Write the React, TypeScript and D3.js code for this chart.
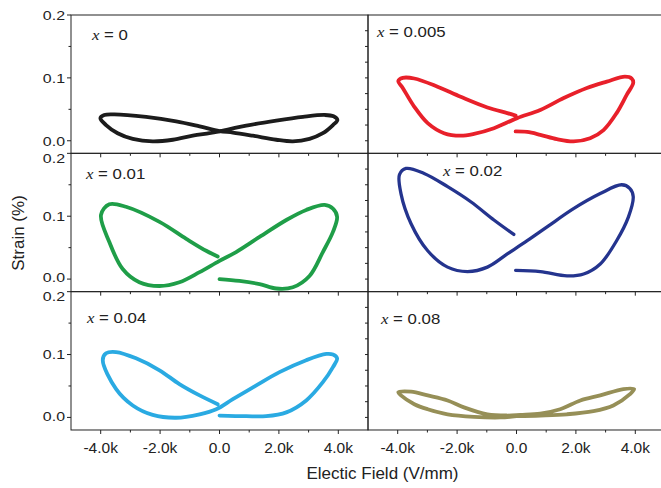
import React from "react";
import * as d3 from "d3";

// Each loop: [electric field (V/mm), strain (%)]
const loopX0: [number, number][] = [
  [0, 0.0148], [900, 0.024], [1910, 0.032], [2810, 0.038], [3540, 0.041], [3840, 0.039],
  [3970, 0.033], [3820, 0.025], [3480, 0.012], [3030, 0.003], [2470, -0.001], [1910, 0.0016],
  [1120, 0.008], [450, 0.013], [0, 0.0155], [-670, 0.023], [-1460, 0.031], [-2470, 0.038],
  [-3540, 0.042], [-3880, 0.041], [-4010, 0.036], [-3820, 0.025], [-3430, 0.012], [-2920, 0.003],
  [-2250, -0.001], [-1570, 0.0016], [-900, 0.008], [-340, 0.012], [0, 0.0148],
];

const loopX005: [number, number][] = [
  [-30, 0.0148], [360, 0.014], [800, 0.0095], [1360, 0.0026], [1920, -0.001], [2480, 0.004],
  [2930, 0.017], [3370, 0.044], [3710, 0.073], [3930, 0.092], [3880, 0.099], [3650, 0.102],
  [3040, 0.094], [2370, 0.084], [1590, 0.068], [800, 0.049], [20, 0.036], [-760, 0.02],
  [-1430, 0.011], [-1880, 0.008], [-2440, 0.012], [-2990, 0.028], [-3440, 0.054], [-3830, 0.084],
  [-3980, 0.095], [-3830, 0.1], [-3440, 0.099], [-2660, 0.086], [-1880, 0.07], [-980, 0.053],
  [-310, 0.044], [-30, 0.04],
];

const loopX01: [number, number][] = [
  [0, 0.0], [670, -0.003], [1350, -0.008], [1910, -0.015], [2470, -0.013], [3030, 0.005],
  [3480, 0.043], [3820, 0.075], [3960, 0.099], [3820, 0.112], [3540, 0.118], [2920, 0.11],
  [2250, 0.094], [1350, 0.067], [560, 0.043], [0, 0.029], [-670, 0.011], [-1350, -0.005],
  [-2020, -0.011], [-2700, -0.005], [-3260, 0.016], [-3710, 0.059], [-3990, 0.102], [-3710, 0.119],
  [-3150, 0.115], [-2020, 0.091], [-1120, 0.064], [-450, 0.045], [-60, 0.036],
];

const loopX02: [number, number][] = [
  [-30, 0.014], [800, 0.012], [1700, 0.005], [2260, 0.008], [2820, 0.024], [3370, 0.061],
  [3770, 0.099], [3930, 0.131], [3820, 0.144], [3540, 0.15], [2820, 0.136], [1920, 0.112],
  [1030, 0.083], [360, 0.061], [-310, 0.04], [-980, 0.019], [-1650, 0.012], [-2320, 0.019],
  [-2990, 0.045], [-3550, 0.088], [-3890, 0.136], [-3940, 0.166], [-3720, 0.176], [-3110, 0.168],
  [-2320, 0.147], [-1540, 0.123], [-760, 0.094], [-90, 0.071],
];

const loopX04: [number, number][] = [
  [0, 0.003], [900, 0.002], [1570, 0.002], [2250, 0.008], [2920, 0.027], [3480, 0.056],
  [3820, 0.08], [3960, 0.094], [3820, 0.1], [3600, 0.101], [2920, 0.091], [2020, 0.072],
  [1240, 0.051], [450, 0.029], [-110, 0.013], [-670, 0.005], [-1460, -0.0005], [-2250, 0.004],
  [-2920, 0.019], [-3480, 0.045], [-3930, 0.091], [-3820, 0.102], [-3480, 0.104], [-2810, 0.094],
  [-2020, 0.075], [-1350, 0.053], [-670, 0.035], [-60, 0.021],
];

const loopX08: [number, number][] = [
  [0, 0.002], [800, 0.003], [1700, 0.005], [2590, 0.01], [3260, 0.019], [3820, 0.037],
  [3960, 0.045], [3600, 0.045], [2820, 0.035], [2150, 0.027], [1470, 0.013], [800, 0.006],
  [130, 0.004], [-310, 0.003], [-980, 0.005], [-1770, 0.016], [-2320, 0.027], [-2990, 0.035],
  [-3550, 0.041], [-3980, 0.04], [-3890, 0.035], [-3440, 0.021], [-2990, 0.013], [-2320, 0.005],
  [-1430, 0.001], [-540, 0.0], [0, 0.002],
];

const panelLabels = ["0", "0.005", "0.01", "0.02", "0.04", "0.08"];
const panelLoops = [loopX0, loopX005, loopX01, loopX02, loopX04, loopX08];
const panelColors = ["#1c1c1c", "#e8202a", "#1f9e48", "#24348e", "#2aaae2", "#968f57"];
const labelPos: [number, number][] = [
  [92, 40], [377, 36.5], [86, 179], [443, 176], [87, 322.5], [381, 324],
];

const xDomain = [-5000, 5000];
const yDomain = [-0.02, 0.2];
const xMajorTicks = [-4000, -2000, 0, 2000, 4000];
const xMinorTicks = [-3000, -1000, 1000, 3000];
const yMajorTicks = [0, 0.1, 0.2];
const yMinorTicks = [0.05, 0.15];
const yRightTicks = [0, 0.025, 0.05, 0.075, 0.1, 0.125, 0.15, 0.175];

const FONT = "'Liberation Sans', Arial, sans-serif";
const INK = "#222";

export default function App() {
  const W = 661, H = 488;
  const left = 71, top = 15, panelW = 297, panelH = 138.33;

  const fmtX = (d: number) => (d === 0 ? "0.0" : `${d < 0 ? "-" : ""}${(Math.abs(d) / 1000).toFixed(1)}k`);

  const panels = panelLoops.map((loop, i) => {
    const col = i % 2, row = Math.floor(i / 2);
    const x0 = left + col * panelW, y0 = top + row * panelH;
    const xs = d3.scaleLinear().domain(xDomain).range([x0, x0 + panelW]);
    const ys = d3.scaleLinear().domain(yDomain).range([y0 + panelH, y0]);
    const line = d3.line<[number, number]>()
      .x((d) => xs(d[0]))
      .y((d) => ys(d[1]))
      .curve(d3.curveCatmullRom.alpha(0.5));
    const yb = y0 + panelH;
    const labelBaseline = (t: number) => {
      if (t === 0.2 && row > 0) return ys(t) + 9.7;
      if (t === 0 && row > 0) return ys(t) + 3.3;
      return ys(t) + 4.8;
    };
    return (
      <g key={i}>
        <rect x={x0} y={y0} width={panelW} height={panelH} fill="none" stroke={INK} strokeWidth={1} />
        {xMajorTicks.map((t) => (
          <line key={"xM" + t} x1={xs(t)} x2={xs(t)} y1={yb} y2={yb + 4} stroke={INK} strokeWidth={1} />
        ))}
        {xMinorTicks.map((t) => (
          <line key={"xm" + t} x1={xs(t)} x2={xs(t)} y1={yb} y2={yb + 2.5} stroke={INK} strokeWidth={1} />
        ))}
        {col === 0 ? (
          <>
            {yMajorTicks.map((t) => (
              <line key={"yM" + t} x1={x0 - 4} x2={x0} y1={ys(t)} y2={ys(t)} stroke={INK} strokeWidth={1} />
            ))}
            {yMinorTicks.map((t) => (
              <line key={"ym" + t} x1={x0 - 2.5} x2={x0} y1={ys(t)} y2={ys(t)} stroke={INK} strokeWidth={1} />
            ))}
            {yMajorTicks.map((t) => (
              <text key={"yl" + t} transform={`translate(${x0 - 6},${labelBaseline(t)}) scale(1.18,1)`}
                textAnchor="end" fontSize={13.5} fontFamily={FONT} fill={INK}>
                {t.toFixed(1)}
              </text>
            ))}
          </>
        ) : (
          yRightTicks.map((t) => (
            <line key={"yr" + t} x1={x0 - 3} x2={x0} y1={ys(t)} y2={ys(t)} stroke={INK} strokeWidth={1} />
          ))
        )}
        {row === 2 &&
          xMajorTicks.map((t) => (
            <text key={"xl" + t} x={xs(t)} y={453} textAnchor="middle" fontSize={15.5} fontFamily={FONT} fill={INK}>
              {fmtX(t)}
            </text>
          ))}
        <path d={line(loop) || ""} fill="none" stroke={panelColors[i]} strokeWidth={i === 3 ? 3.3 : 3.8}
          strokeLinecap="round" strokeLinejoin="round" />
        <text transform={`translate(${labelPos[i][0]},${labelPos[i][1]}) scale(1.12,1)`} fontSize={15}
          fontFamily={FONT} fill={INK}>
          <tspan fontFamily="'Liberation Serif', 'Times New Roman', serif" fontStyle="italic">x</tspan>
          {" = " + panelLabels[i]}
        </text>
      </g>
    );
  });

  return (
    <svg width={W} height={H} style={{ position: "absolute", left: 0, top: 0, background: "#fff" }}>
      {panels}
      <text x={382.5} y={479} textAnchor="middle" fontSize={17} fontFamily={FONT} fill={INK}>
        Electic Field (V/mm)
      </text>
      <text transform="translate(24,233) rotate(-90)" textAnchor="middle" fontSize={17} fontFamily={FONT} fill={INK}>
        Strain (%)
      </text>
    </svg>
  );
}
